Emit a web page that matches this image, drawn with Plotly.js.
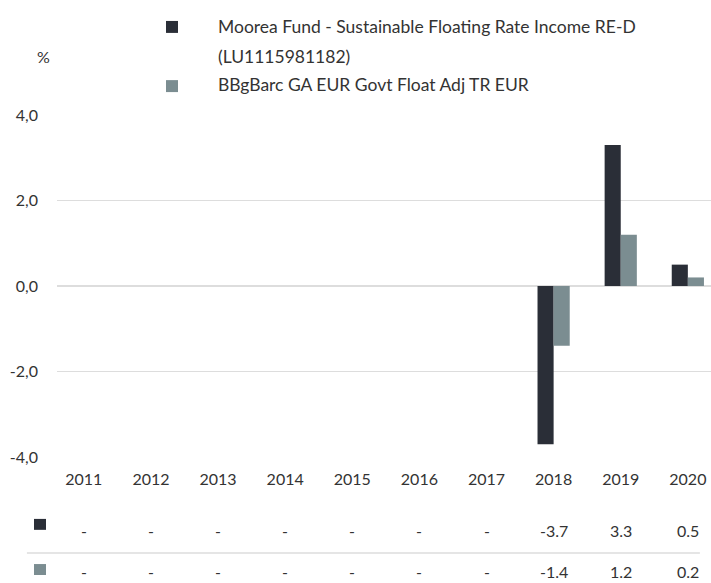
<!DOCTYPE html>
<html>
<head>
<meta charset="utf-8">
<script src="https://cdn.plot.ly/plotly-3.0.1.min.js"></script>
<style>html,body{margin:0;padding:0;background:#fff;}#chart{width:711px;height:583px;}</style>
</head>
<body>
<div id="chart"></div>
<script>
// ---- data ----
const years = ['2011','2012','2013','2014','2015','2016','2017','2018','2019','2020'];
const fundName = 'Moorea Fund - Sustainable Floating Rate Income RE-D';
const fundCode = '(LU1115981182)';
const benchName = 'BBgBarc GA EUR Govt Float Adj TR EUR';
const fundValues = [null, null, null, null, null, null, null, -3.7, 3.3, 0.5];
const benchValues = [null, null, null, null, null, null, null, -1.4, 1.2, 0.2];
const yTicks = [-4, -2, 0, 2, 4];
const yTickLabels = ['-4,0', '-2,0', '0,0', '2,0', '4,0'];

// ---- styles ----
const FONT = 'Lato, "Source Sans Pro", "Noto Sans", sans-serif';
const TXT = '#333333';
const DARK = '#2a2e37';
const GREY = '#7b8d91';
const GRID = '#dddddd';

const traces = [
  {type: 'bar', x: years, y: fundValues, name: fundName, marker: {color: DARK}},
  {type: 'bar', x: years, y: benchValues, name: benchName, marker: {color: GREY}}
];

const fmt = v => (v === null ? '-' : v.toFixed(1));
const annotations = [];
const rowY = [-0.215, -0.334];
[fundValues, benchValues].forEach((arr, r) => {
  arr.forEach((v, i) => {
    annotations.push({
      xref: 'x', yref: 'paper', x: i, y: rowY[r],
      text: fmt(v), showarrow: false, xanchor: 'center', yanchor: 'middle',
      font: {family: FONT, size: 16, color: TXT}
    });
  });
});
// % label
annotations.push({xref: 'paper', yref: 'paper', x: -0.02, y: 1.172, xanchor: 'center', yanchor: 'middle',
  text: '%', showarrow: false, font: {family: FONT, size: 16, color: TXT}});
// legend texts
const LEGX = 0.243;
annotations.push({xref: 'paper', yref: 'paper', x: LEGX, y: 1.259, xanchor: 'left', yanchor: 'middle',
  text: fundName, showarrow: false, font: {family: FONT, size: 17.5, color: TXT}});
annotations.push({xref: 'paper', yref: 'paper', x: LEGX, y: 1.172, xanchor: 'left', yanchor: 'middle',
  text: fundCode, showarrow: false, font: {family: FONT, size: 17.5, color: TXT}});
annotations.push({xref: 'paper', yref: 'paper', x: LEGX, y: 1.089, xanchor: 'left', yanchor: 'middle',
  text: benchName, showarrow: false, font: {family: FONT, size: 17.5, color: TXT}});

const shapes = [
  // legend squares
  {type: 'rect', xref: 'paper', yref: 'paper', x0: 0.1667, x1: 0.185, y0: 1.240, y1: 1.275, fillcolor: DARK, line: {width: 0}},
  {type: 'rect', xref: 'paper', yref: 'paper', x0: 0.1667, x1: 0.185, y0: 1.067, y1: 1.102, fillcolor: GREY, line: {width: 0}},
  // table squares
  {type: 'rect', xref: 'paper', yref: 'paper', x0: -0.0352, x1: -0.0168, y0: -0.181, y1: -0.213, fillcolor: DARK, line: {width: 0}},
  {type: 'rect', xref: 'paper', yref: 'paper', x0: -0.0352, x1: -0.0168, y0: -0.313, y1: -0.345, fillcolor: GREY, line: {width: 0}},
  // table separator
  {type: 'line', xref: 'paper', yref: 'paper', x0: -0.046, x1: 0.983, y0: -0.281, y1: -0.281, line: {color: GRID, width: 1.5}}
];

const layout = {
  width: 711, height: 583,
  margin: {l: 57, r: 0, t: 115, b: 126},
  paper_bgcolor: '#ffffff', plot_bgcolor: '#ffffff',
  font: {family: FONT, size: 16, color: TXT},
  showlegend: false,
  barmode: 'group',
  bargap: 0.52,
  bargroupgap: 0,
  xaxis: {
    type: 'category', range: [-0.4, 9.345], showgrid: false, zeroline: false, showline: false,
    ticks: '', ticklabelstandoff: 11, tickfont: {family: FONT, size: 16, color: TXT}, fixedrange: true
  },
  yaxis: {
    range: [-4, 4], tickvals: yTicks, ticktext: yTickLabels, showgrid: true, gridcolor: GRID, gridwidth: 1.5,
    zeroline: true, zerolinecolor: GRID, zerolinewidth: 1.5, showline: false, ticks: '',
    ticklabelstandoff: 18, tickfont: {family: FONT, size: 16, color: TXT}, fixedrange: true
  },
  annotations: annotations,
  shapes: shapes
};

Plotly.newPlot('chart', traces, layout, {displayModeBar: false, staticPlot: true});
</script>
</body>
</html>
